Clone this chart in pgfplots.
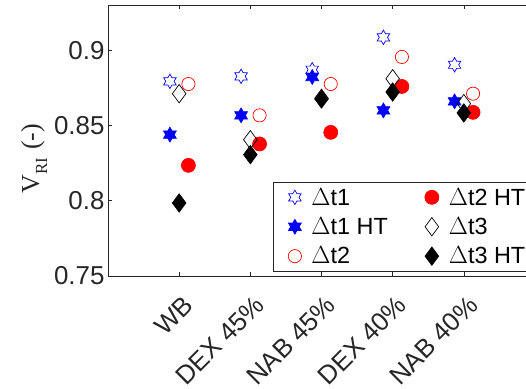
\documentclass[border=0pt]{standalone}
\usepackage{pgfplots}
\pgfplotsset{compat=1.18}
\usepackage{fontspec}
\setmainfont{Liberation Sans}
\newfontfamily\labelserif{Liberation Serif}

\definecolor{axgray}{rgb}{0.15,0.15,0.15}

% six-pointed star (hexagram), open and filled
\pgfdeclareplotmark{hexagram}{%
  \pgfpathmoveto{\pgfpointpolar{90}{\pgfplotmarksize}}%
  \pgfpathlineto{\pgfpointpolar{120}{0.5774\pgfplotmarksize}}%
  \pgfpathlineto{\pgfpointpolar{150}{\pgfplotmarksize}}%
  \pgfpathlineto{\pgfpointpolar{180}{0.5774\pgfplotmarksize}}%
  \pgfpathlineto{\pgfpointpolar{210}{\pgfplotmarksize}}%
  \pgfpathlineto{\pgfpointpolar{240}{0.5774\pgfplotmarksize}}%
  \pgfpathlineto{\pgfpointpolar{270}{\pgfplotmarksize}}%
  \pgfpathlineto{\pgfpointpolar{300}{0.5774\pgfplotmarksize}}%
  \pgfpathlineto{\pgfpointpolar{330}{\pgfplotmarksize}}%
  \pgfpathlineto{\pgfpointpolar{0}{0.5774\pgfplotmarksize}}%
  \pgfpathlineto{\pgfpointpolar{30}{\pgfplotmarksize}}%
  \pgfpathlineto{\pgfpointpolar{60}{0.5774\pgfplotmarksize}}%
  \pgfpathclose
  \pgfusepathqstroke
}
\pgfdeclareplotmark{hexagram*}{%
  \pgfpathmoveto{\pgfpointpolar{90}{\pgfplotmarksize}}%
  \pgfpathlineto{\pgfpointpolar{120}{0.5774\pgfplotmarksize}}%
  \pgfpathlineto{\pgfpointpolar{150}{\pgfplotmarksize}}%
  \pgfpathlineto{\pgfpointpolar{180}{0.5774\pgfplotmarksize}}%
  \pgfpathlineto{\pgfpointpolar{210}{\pgfplotmarksize}}%
  \pgfpathlineto{\pgfpointpolar{240}{0.5774\pgfplotmarksize}}%
  \pgfpathlineto{\pgfpointpolar{270}{\pgfplotmarksize}}%
  \pgfpathlineto{\pgfpointpolar{300}{0.5774\pgfplotmarksize}}%
  \pgfpathlineto{\pgfpointpolar{330}{\pgfplotmarksize}}%
  \pgfpathlineto{\pgfpointpolar{0}{0.5774\pgfplotmarksize}}%
  \pgfpathlineto{\pgfpointpolar{30}{\pgfplotmarksize}}%
  \pgfpathlineto{\pgfpointpolar{60}{0.5774\pgfplotmarksize}}%
  \pgfpathclose
  \pgfusepathqfillstroke
}
% tall diamond, open and filled
\pgfdeclareplotmark{tdiamond}{%
  \pgfpathmoveto{\pgfqpoint{0pt}{1.35\pgfplotmarksize}}%
  \pgfpathlineto{\pgfqpoint{\pgfplotmarksize}{0pt}}%
  \pgfpathlineto{\pgfqpoint{0pt}{-1.35\pgfplotmarksize}}%
  \pgfpathlineto{\pgfqpoint{-\pgfplotmarksize}{0pt}}%
  \pgfpathclose
  \pgfusepathqstroke
}
\pgfdeclareplotmark{tdiamond*}{%
  \pgfpathmoveto{\pgfqpoint{0pt}{1.35\pgfplotmarksize}}%
  \pgfpathlineto{\pgfqpoint{\pgfplotmarksize}{0pt}}%
  \pgfpathlineto{\pgfqpoint{0pt}{-1.35\pgfplotmarksize}}%
  \pgfpathlineto{\pgfqpoint{-\pgfplotmarksize}{0pt}}%
  \pgfpathclose
  \pgfusepathqfillstroke
}

\begin{document}
\begin{tikzpicture}
\begin{axis}[
  scale only axis,
  width=427bp, height=271bp,
  xmin=0, xmax=6, ymin=0.75, ymax=0.93,
  xtick={1,2,3,4,5},
  xticklabels={\rotatebox{45}{WB}, \rotatebox{45}{DEX 45\%}, \rotatebox{45}{NAB 45\%},
               \rotatebox{45}{DEX 40\%}, \rotatebox{45}{NAB 40\%}},
  ytick={0.75,0.8,0.85,0.9},
  yticklabels={0.75,0.8,0.85,0.9},
  tick align=inside, tick pos=both,
  major tick length=4.5bp,
  axis line style={axgray, line width=0.6bp},
  tick style={axgray, line width=0.6bp},
  tick label style={font=\fontsize{26}{30}\selectfont, text=axgray},
  x tick label style={anchor=north east, inner sep=0pt, xshift=16bp, yshift=-18bp},
  ylabel={\labelserif V\raisebox{-8bp}{\fontsize{17}{20}\selectfont RI}\hspace{8bp}(-)},
  ylabel style={font=\fontsize{26}{30}\selectfont, text=axgray, at={(ticklabel cs:0.433)}},
  legend columns=3, transpose legend,
  legend cell align=left,
  legend image code/.code={\draw[mark repeat=2,mark phase=2,#1] plot coordinates {(0bp,0bp)(11bp,0bp)(22bp,0bp)};},
  legend style={
    at={(0.3864,0.0148)}, anchor=south west,
    draw=axgray, line width=0.6bp, fill=white,
    font=\fontsize{23.5}{28}\selectfont, text=black,
    inner xsep=15bp, inner ysep=4.3bp,
    nodes={inner sep=2bp},
    row sep=7bp,
    /tikz/every odd column/.append style={column sep=8bp},
    /tikz/every even column/.append style={column sep=35bp},
  },
]
% Delta t1
\addplot[only marks, mark=hexagram, blue, mark size=7.2bp, line width=0.7bp]
  coordinates {(0.87,0.8793) (1.87,0.8826) (2.87,0.8870) (3.87,0.9085) (4.87,0.8903)};
\addlegendentry{$\Delta$t1}
% Delta t1, HT
\addplot[only marks, mark=hexagram*, blue, mark size=7.4bp, line width=0.7bp]
  coordinates {(0.87,0.8439) (1.87,0.8567) (2.87,0.8822) (3.87,0.8600) (4.87,0.8660)};
\addlegendentry{$\Delta$t1 HT}
% Delta t2
\addplot[only marks, mark=o, red, mark size=6.6bp, line width=0.7bp]
  coordinates {(1.13,0.8775) (2.13,0.8567) (3.13,0.8775) (4.13,0.8955) (5.13,0.8711)};
\addlegendentry{$\Delta$t2}
% Delta t2, HT
\addplot[only marks, mark=*, red, mark size=7bp, line width=0.7bp]
  coordinates {(1.13,0.8235) (2.13,0.8377) (3.13,0.8454) (4.13,0.8759) (5.13,0.8587)};
\addlegendentry{$\Delta$t2 HT}
% Delta t3
\addplot[only marks, mark=tdiamond, black, mark size=6.8bp, line width=0.7bp]
  coordinates {(1,0.8711) (2,0.8405) (3,0.8680) (4,0.8810) (5,0.8645)};
\addlegendentry{$\Delta$t3}
% Delta t3, HT
\addplot[only marks, mark=tdiamond*, black, mark size=6.8bp, line width=0.7bp]
  coordinates {(1,0.7985) (2,0.8306) (3,0.8676) (4,0.8722) (5,0.8583)};
\addlegendentry{$\Delta$t3 HT}
\end{axis}
\pgfresetboundingbox
\useasboundingbox (-108bp,-113bp) rectangle (418bp,276bp);
\end{tikzpicture}
\end{document}
